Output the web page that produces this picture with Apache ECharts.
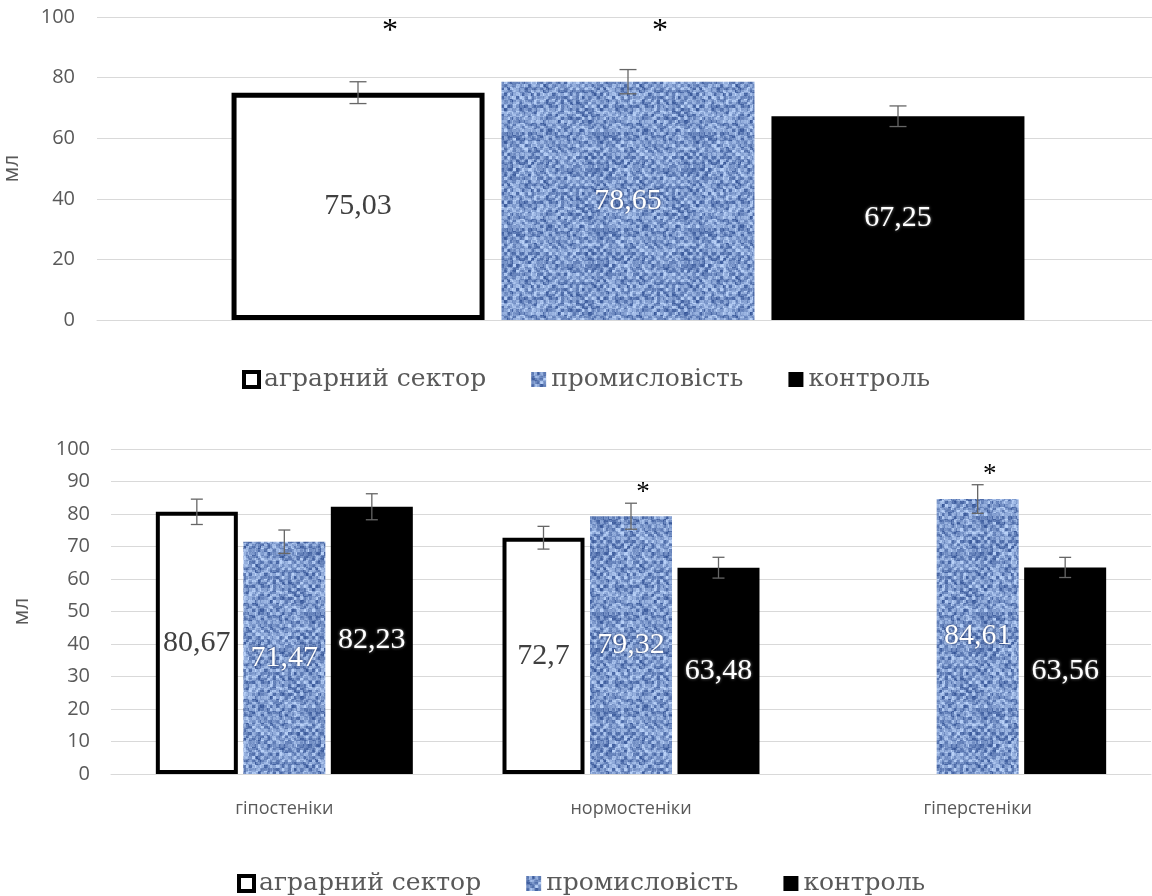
<!DOCTYPE html>
<html>
<head>
<meta charset="utf-8">
<script src="https://cdn.jsdelivr.net/npm/echarts@6/dist/echarts.min.js"></script>
<style>
  html, body { margin: 0; padding: 0; background: #fff; }
  #chart { width: 1152px; height: 896px; }
</style>
</head>
<body>
<div id="chart"></div>
<script>
// ---- data ----
const groupNames = ['аграрний сектор', 'промисловість', 'контроль'];

// upper panel: whole sample
const totalValues = [75.03, 78.65, 67.25];
const totalErrors = [3.6, 4.0, 3.4];
const totalStars = [1, 1, 0];
const totalTicks = [0, 20, 40, 60, 80, 100];

// lower panel: by body type
const bodyTypes = ['гіпостеніки', 'нормостеніки', 'гіперстеніки'];
const agrarValues = [80.67, 72.7, null];
const agrarErrors = [3.9, 3.5, null];
const agrarStars = [0, 0, 0];
const industryValues = [71.47, 79.32, 84.61];
const industryErrors = [3.6, 4.0, 4.4];
const industryStars = [0, 1, 1];
const controlValues = [82.23, 63.48, 63.56];
const controlErrors = [4.0, 3.2, 3.1];
const controlStars = [0, 0, 0];
const bodyTicks = [0, 10, 20, 30, 40, 50, 60, 70, 80, 90, 100];

const unitName = 'мл';

// ---- woven blue fill ----
function makeWeave() {
  const N = 96;
  const cv = document.createElement('canvas');
  cv.width = N; cv.height = N;
  const ctx = cv.getContext('2d');
  const img = ctx.createImageData(N, N);
  const dark = [46, 78, 146], light = [186, 210, 248];
  const hash = (x, y) => {
    const s = Math.sin(x * 12.9898 + y * 78.233) * 43758.5453;
    return s - Math.floor(s);
  };
  for (let y = 0; y < N; y++) {
    for (let x = 0; x < N; x++) {
      const cx = Math.floor(x / 3), cy = Math.floor(y / 3);
      const warp = (Math.floor(x / 4) + Math.floor(y / 4)) % 2 === 0;
      let t = warp ? 0.68 : 0.44;
      t += (hash(cx, cy) - 0.5) * 0.65;
      t += (hash(x, y + 500) - 0.5) * 0.15;
      t = Math.max(0, Math.min(1, t));
      const i = (y * N + x) * 4;
      img.data[i] = dark[0] + (light[0] - dark[0]) * t;
      img.data[i + 1] = dark[1] + (light[1] - dark[1]) * t;
      img.data[i + 2] = dark[2] + (light[2] - dark[2]) * t;
      img.data[i + 3] = 255;
    }
  }
  ctx.putImageData(img, 0, 0);
  return cv;
}
const weave = { image: makeWeave(), repeat: 'repeat' };

// ---- styles ----
const gray = '#595959';
const gridGray = '#d9d9d9';
const serif = '"Liberation Serif", "DejaVu Serif", serif';
const cyrSerif = '"DejaVu Serif", "Noto Serif", "Liberation Serif", serif';
const sans = '"Open Sans", sans-serif';

const barStyles = [
  { color: '#ffffff', borderColor: '#000000' },
  { color: weave, borderWidth: 0 },
  { color: '#000000', borderWidth: 0 }
];
const labelStyles = [
  { color: '#404040' },
  { color: '#ffffff', textShadowColor: 'rgba(20,40,90,0.9)', textShadowBlur: 3 },
  { color: '#ffffff', textShadowColor: 'rgba(255,255,255,0.55)', textShadowBlur: 3 }
];
const fmt = v => String(v).replace('.', ',');

// bar geometry per panel
const panels = [
  { barW: 253, gap: 17, borderW: 5, cap: 17, starFont: 32, starDx: 32 },
  { barW: 82, gap: 5.5, borderW: 4, cap: 12, starFont: 27, starDx: 12 }
];

function errorRenderer(panel, slot, topStarMode) {
  return function (params, api) {
    const cat = api.value(0), v = api.value(1), e = api.value(2), star = api.value(3);
    const off = (slot - 1) * (panel.barW + panel.gap);
    const x = api.coord([cat, v])[0] + off;
    const yTop = api.coord([cat, v + e])[1];
    const yBot = api.coord([cat, v - e])[1];
    const h = panel.cap / 2;
    const ls = { stroke: '#666666', lineWidth: 1.3 };
    const children = [
      { type: 'line', shape: { x1: x, y1: yTop, x2: x, y2: yBot }, style: ls },
      { type: 'line', shape: { x1: x - h, y1: yTop, x2: x + h, y2: yTop }, style: ls },
      { type: 'line', shape: { x1: x - h, y1: yBot, x2: x + h, y2: yBot }, style: ls }
    ];
    if (star) {
      const sy = topStarMode ? api.coord([cat, 100])[1] + 15 : yTop - 10;
      children.push({
        type: 'text',
        style: {
          x: x + panel.starDx, y: sy, text: '*',
          font: panel.starFont + 'px ' + serif,
          fill: '#000', align: 'center', verticalAlign: 'middle'
        }
      });
    }
    return { type: 'group', children: children };
  };
}

function barSeries(name, slot, values, axisIdx, panel) {
  return {
    type: 'bar', name: name,
    xAxisIndex: axisIdx, yAxisIndex: axisIdx,
    barWidth: panel.barW,
    barGap: (panel.gap / panel.barW * 100).toFixed(1) + '%',
    data: values,
    itemStyle: Object.assign({ borderWidth: panel.borderW }, barStyles[slot]),
    label: Object.assign({
      show: true, position: 'inside',
      fontFamily: serif, fontSize: 30,
      formatter: p => fmt(p.value)
    }, labelStyles[slot]),
    emphasis: { disabled: true },
    z: 2
  };
}

function errSeries(name, slot, values, errors, stars, axisIdx, panel, topStarMode) {
  const data = [];
  values.forEach((v, i) => {
    if (v != null && errors[i] != null) data.push([i, v, errors[i], stars[i]]);
  });
  return {
    type: 'custom', name: name,
    xAxisIndex: axisIdx, yAxisIndex: axisIdx,
    renderItem: errorRenderer(panel, slot, topStarMode),
    data: data, z: 5, silent: true
  };
}

function legendFor(top, left) {
  return {
    top: top, left: left,
    itemWidth: 15, itemHeight: 15, itemGap: 45,
    selectedMode: false,
    textStyle: { fontFamily: cyrSerif, fontSize: 25, color: gray },
    data: [
      { name: groupNames[0], icon: 'rect', itemStyle: { color: '#fff', borderColor: '#000', borderWidth: 4 } },
      { name: groupNames[1], icon: 'rect', itemStyle: { color: weave, borderWidth: 0 } },
      { name: groupNames[2], icon: 'rect', itemStyle: { color: '#000', borderWidth: 0 } }
    ]
  };
}

function valueAxis(gridIndex, ticks, nameGap, labelMargin) {
  return {
    type: 'value', gridIndex: gridIndex,
    min: ticks[0], max: ticks[ticks.length - 1], interval: ticks[1] - ticks[0],
    name: unitName, nameLocation: 'middle', nameRotate: 90, nameGap: nameGap,
    nameTextStyle: { fontFamily: sans, fontSize: 21, color: gray },
    axisLine: { show: false }, axisTick: { show: false },
    axisLabel: { fontFamily: sans, fontSize: 20, color: gray, margin: labelMargin },
    splitLine: { lineStyle: { color: gridGray, width: 1 } }
  };
}

const chart = echarts.init(document.getElementById('chart'), null, { renderer: 'canvas' });

const option = {
  animation: false,
  backgroundColor: '#ffffff',
  grid: [
    { left: 97, top: 17, width: 1062, height: 303, outerBoundsMode: 'none', containLabel: false },
    { left: 111, top: 449, width: 1040, height: 325, outerBoundsMode: 'none', containLabel: false }
  ],
  legend: [legendFor(362, 237), legendFor(866, 232)],
  xAxis: [
    {
      type: 'category', gridIndex: 0, data: [''],
      axisLine: { lineStyle: { color: gridGray } }, axisTick: { show: false },
      axisLabel: { show: false }
    },
    {
      type: 'category', gridIndex: 1, data: bodyTypes,
      axisLine: { lineStyle: { color: gridGray } }, axisTick: { show: false },
      axisLabel: { fontFamily: sans, fontSize: 18, color: gray, margin: 26 }
    }
  ],
  yAxis: [
    valueAxis(0, totalTicks, 74, 22),
    valueAxis(1, bodyTicks, 78, 21)
  ],
  series: [
    // upper panel
    barSeries(groupNames[0], 0, [totalValues[0]], 0, panels[0]),
    barSeries(groupNames[1], 1, [totalValues[1]], 0, panels[0]),
    barSeries(groupNames[2], 2, [totalValues[2]], 0, panels[0]),
    errSeries('errTop0', 0, [totalValues[0]], [totalErrors[0]], [totalStars[0]], 0, panels[0], true),
    errSeries('errTop1', 1, [totalValues[1]], [totalErrors[1]], [totalStars[1]], 0, panels[0], true),
    errSeries('errTop2', 2, [totalValues[2]], [totalErrors[2]], [totalStars[2]], 0, panels[0], true),
    // lower panel
    barSeries(groupNames[0], 0, agrarValues, 1, panels[1]),
    barSeries(groupNames[1], 1, industryValues, 1, panels[1]),
    barSeries(groupNames[2], 2, controlValues, 1, panels[1]),
    errSeries('errBody0', 0, agrarValues, agrarErrors, agrarStars, 1, panels[1], false),
    errSeries('errBody1', 1, industryValues, industryErrors, industryStars, 1, panels[1], false),
    errSeries('errBody2', 2, controlValues, controlErrors, controlStars, 1, panels[1], false)
  ]
};

chart.setOption(option);
</script>
</body>
</html>
